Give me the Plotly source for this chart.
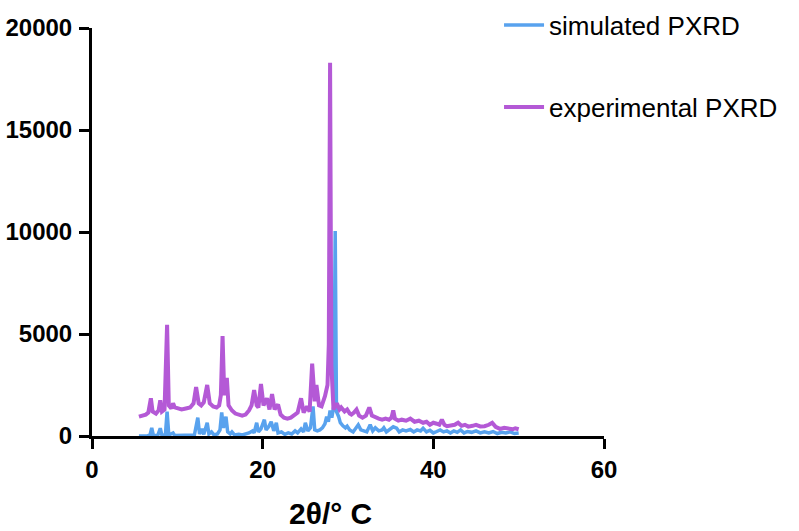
import plotly.graph_objects as go

# ---- data ----
exp_x = [5.5, 5.9, 6.3, 6.6, 6.9, 7.1, 7.5, 7.8, 8.0, 8.2, 8.5, 8.8, 9.0, 9.3, 9.5, 9.7,
         10.0, 10.5, 11.0, 11.5, 11.9, 12.2, 12.5, 12.8, 13.1, 13.5, 13.8, 14.2, 14.6, 14.9,
         15.1, 15.3, 15.5, 15.8, 16.0, 16.4, 16.8, 17.2, 17.6, 18.0, 18.4, 18.7, 19.0, 19.3,
         19.5, 19.8, 20.1, 20.5, 20.8, 21.1, 21.4, 21.8, 22.1, 22.5, 22.9, 23.3, 23.7, 24.1,
         24.5, 24.8, 25.2, 25.5, 25.8, 26.1, 26.3, 26.6, 26.9, 27.3, 27.6, 27.75, 27.9, 28.05,
         28.3, 28.7, 29.0, 29.2, 29.6, 29.9, 30.2, 30.4, 30.7, 31.0, 31.3, 31.7, 32.1, 32.5,
         32.8, 33.2, 33.6, 34.0, 34.4, 34.8, 35.1, 35.3, 35.5, 35.9, 36.3, 36.8, 37.3, 37.8,
         38.3, 38.8, 39.2, 39.6, 40.0, 40.4, 40.7, 41.0, 41.3, 41.6, 42.0, 42.5, 42.9, 43.3,
         43.7, 44.1, 44.6, 45.0, 45.5, 46.0, 46.5, 46.9, 47.3, 47.8, 48.3, 48.8, 49.3, 49.6, 50.0]
exp_y = [950, 1000, 1050, 1150, 1850, 1200, 1100, 1250, 1750, 1200, 1300, 5450, 1500, 1350, 1600, 1400,
         1350, 1300, 1350, 1400, 1600, 2400, 1600, 1500, 1650, 2500, 1600, 1450, 1400, 1500,
         2000, 4900, 2000, 2850, 1500, 1250, 1100, 1050, 1000, 1050, 1250, 1500, 2250, 1500,
         1400, 2550, 1500, 1850, 1300, 2050, 1300, 1550, 1050, 900, 850, 900, 1000, 1150,
         1850, 1150, 1450, 1200, 3550, 1700, 2500, 1500, 1450, 1950, 2500, 4500, 18300, 3500,
         1300, 1600, 1300, 1400, 1200, 1300, 1100, 1050, 1150, 1300, 1000, 900, 1000, 1400,
         1000, 900, 850, 800, 850, 800, 900, 1250, 850, 750, 800, 750, 850, 700,
         750, 650, 700, 550, 650, 600, 550, 800, 550, 480, 500, 550, 650, 500,
         550, 460, 500, 550, 470, 480, 550, 650, 450, 350, 400, 380, 330, 380, 330]

sim_x = [5.5, 6.5, 6.8, 7.0, 7.2, 7.7, 8.0, 8.2, 8.6, 8.8, 9.0, 9.5, 9.7, 10.5, 11.0, 11.5,
         12.0, 12.4, 12.6, 12.9, 13.1, 13.5, 13.7, 14.0, 14.3, 14.7, 15.0, 15.2, 15.4, 15.7,
         15.9, 16.2, 16.4, 16.7, 17.2, 17.6, 18.0, 18.4, 18.8, 19.0, 19.3, 19.5, 19.8, 20.2,
         20.4, 20.7, 21.0, 21.3, 21.6, 21.8, 22.2, 22.6, 23.0, 23.4, 23.8, 24.1, 24.5, 24.8,
         25.0, 25.3, 25.6, 25.9, 26.1, 26.4, 26.7, 27.0, 27.3, 27.5, 27.7, 27.9, 28.1, 28.35,
         28.5, 28.65, 28.9, 29.1, 29.4, 29.7, 29.9, 30.2, 30.6, 30.9, 31.2, 31.5, 31.9, 32.2,
         32.6, 32.9, 33.2, 33.6, 34.0, 34.2, 34.5, 34.9, 35.3, 35.7, 36.0, 36.4, 36.8, 37.3,
         37.7, 38.1, 38.5, 38.8, 39.2, 39.6, 40.0, 40.4, 40.8, 41.2, 41.6, 42.0, 42.4, 42.8,
         43.2, 43.6, 44.0, 44.5, 45.0, 45.5, 46.0, 46.5, 47.0, 47.5, 48.0, 48.5, 49.0, 49.5, 50.0]
sim_y = [0, 0, 50, 400, 20, 20, 380, 20, 50, 1200, 50, 150, 20, 20, 50, 30,
         50, 900, 100, 350, 80, 650, 100, 200, 50, 100, 300, 1150, 400, 950,
         200, 100, 200, 50, 80, 50, 100, 150, 250, 150, 650, 200, 350, 800,
         300, 450, 700, 250, 650, 150, 200, 80, 150, 100, 250, 150, 350, 200,
         650, 250, 400, 1450, 300, 250, 300, 400, 600, 950, 700, 1250, 900, 1500,
         10050, 1200, 950, 650, 500, 400, 480, 300, 200, 400, 550, 300, 250, 200,
         550, 250, 400, 250, 300, 400, 200, 300, 450, 380, 200, 300, 250, 320,
         200, 300, 250, 380, 200, 280, 150, 220, 300, 200, 250, 150, 250, 180,
         300, 150, 220, 180, 250, 150, 200, 150, 220, 120, 180, 150, 200, 120, 150]

x_ticks = [0, 20, 40, 60]
x_tick_labels = ["0", "20", "40", "60"]
y_ticks = [0, 5000, 10000, 15000, 20000]
y_tick_labels = ["0", "5000", "10000", "15000", "20000"]

BLUE = "#58A2EE"
PURPLE = "#B459D6"

fig = go.Figure()
fig.add_trace(go.Scatter(x=sim_x, y=sim_y, mode="lines", name="simulated PXRD",
                         line=dict(color=BLUE, width=3.5), legend="legend"))
fig.add_trace(go.Scatter(x=exp_x, y=exp_y, mode="lines", name="experimental PXRD",
                         line=dict(color=PURPLE, width=4), legend="legend2"))

axis_common = dict(showline=True, linecolor="black", linewidth=3, ticks="outside",
                   ticklen=10, tickwidth=3, tickcolor="black", showgrid=False,
                   zeroline=False, mirror=False, automargin=False,
                   tickfont=dict(family="Liberation Sans", size=24, color="black", weight="bold"))

fig.update_xaxes(range=[0, 60], tickvals=x_ticks, ticktext=x_tick_labels, **axis_common)
fig.update_yaxes(range=[0, 20000], tickvals=y_ticks, ticktext=y_tick_labels,
                 ticklabelstandoff=2, **axis_common)

legend_font = dict(family="Liberation Sans", size=26, color="black")
fig.update_layout(
    template="none",
    width=799, height=531,
    margin=dict(l=92, r=195, t=28, b=95, autoexpand=False),
    plot_bgcolor="white", paper_bgcolor="white",
    showlegend=True,
    legend=dict(x=0.795, y=1.007, xanchor="left", yanchor="middle", font=legend_font,
                bgcolor="rgba(0,0,0,0)", itemwidth=40),
    legend2=dict(x=0.795, y=0.806, xanchor="left", yanchor="middle", font=legend_font,
                 bgcolor="rgba(0,0,0,0)", itemwidth=40),
    annotations=[dict(text="2θ/° C", x=0.465, y=-0.19, xref="paper", yref="paper",
                      xanchor="center", yanchor="middle", showarrow=False,
                      font=dict(family="Liberation Sans", size=30, color="black", weight="bold"))],
)

fig.write_html("out.html", config={"displayModeBar": False},
               post_script="document.body.style.margin='0';")
